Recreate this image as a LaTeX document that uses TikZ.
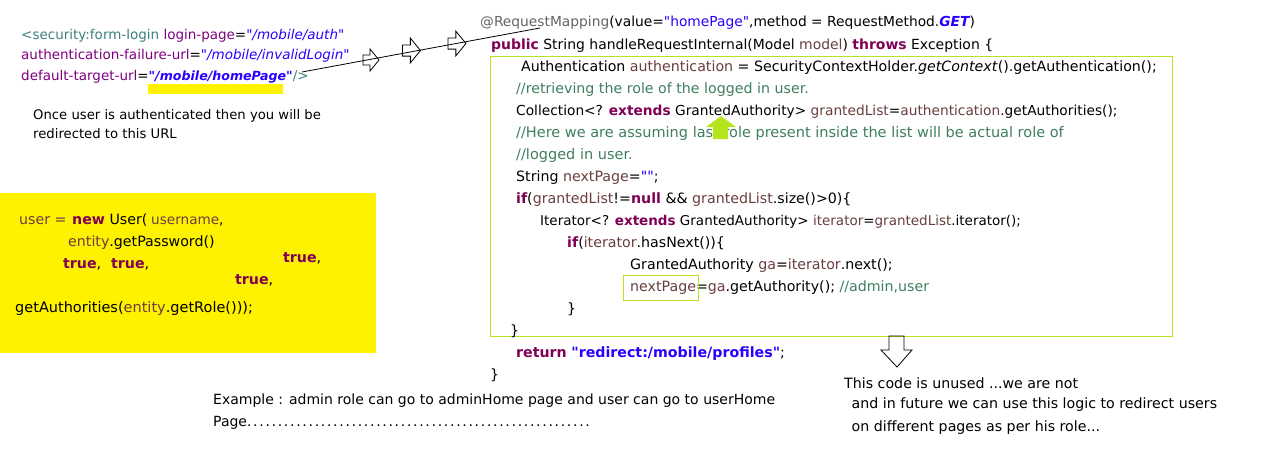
\documentclass[tikz,border=0pt]{standalone}
\usepackage{fontspec}
\newfontfamily\codefont{DejaVu Sans}
\usepackage{xcolor}
\definecolor{kwc}{RGB}{127,0,85}
\definecolor{strc}{RGB}{42,0,255}
\definecolor{varc}{RGB}{106,62,62}
\definecolor{comc}{RGB}{63,127,95}
\definecolor{annc}{RGB}{100,100,100}
\definecolor{xtagc}{RGB}{63,127,127}
\definecolor{xattrc}{RGB}{127,0,127}
\definecolor{limec}{RGB}{181,230,29}
\definecolor{yelc}{RGB}{255,242,0}
\newcommand{\ckw}[1]{\textcolor{kwc}{\bfseries #1}}
\newcommand{\cst}[1]{\textcolor{strc}{#1}}
\newcommand{\cvr}[1]{\textcolor{varc}{#1}}
\newcommand{\ccm}[1]{\textcolor{comc}{#1}}
\newcommand{\fsz}[1]{\fontsize{#1}{16}\selectfont}
\begin{document}
\begin{tikzpicture}[x=1pt,y=-1pt,
  code/.style={anchor=base west, inner sep=0pt, font=\codefont\fsz{14.2}},
  xml/.style={anchor=base west, inner sep=0pt, font=\codefont\fsz{13.5}},
  note/.style={anchor=base west, inner sep=0pt, font=\codefont\fsz{13.2}},
  ybox/.style={anchor=base west, inner sep=0pt, font=\codefont\fsz{14.2}},
  hollowr/.pic={\draw[black, line width=0.8pt] (-8,-5) -- (-1,-5) -- (-1,-11) -- (8,0) -- (-1,11) -- (-1,5) -- (-8,5) -- cycle;}
]
\useasboundingbox (0,0) rectangle (1270,471);
\fill[white] (0,0) rectangle (1270,471);

% XML config
\node[xml] (x1) at (21,39) {\textcolor{xtagc}{<security:form-login} \textcolor{xattrc}{login-page}=\cst{\itshape "/mobile/auth"}};
\node[xml] (x2) at (21,59) {\textcolor{xattrc}{authentication-failure-url}=\cst{\itshape "/mobile/invalidLogin"}};
\node[xml] (x3) at (21,80) {\textcolor{xattrc}{default-target-url}=\cst{\fsz{12.6}\bfseries\itshape "/mobile/homePage"}\textcolor{xtagc}{/>}};
\node[fill=yelc, inner sep=0pt, minimum width=135pt, minimum height=10pt, anchor=north west] (hl) at (148,84) {};
\node[note] (n1) at (33,119) {Once user is authenticated then you will be};
\node[note] (n2) at (33,138) {redirected to this URL};

% yellow box
\node[fill=yelc, inner sep=0pt, minimum width=376pt, minimum height=160pt, anchor=north west] (yb) at (0,193) {};
\node[ybox] (y1a) at (19,224) {\cvr{user =}};
\node[ybox] (y1b) at (72,224) {\ckw{new} User(};
\node[ybox, font=\codefont\fsz{13.6}] (y1c) at (151,224) {\cvr{username},};
\node[ybox] (y2) at (68,246) {\cvr{entity}.getPassword()};
\node[ybox] (y3) at (63,268) {\ckw{true},};
\node[ybox] (y4) at (111,268) {\ckw{true},};
\node[ybox] (y5) at (283,262) {\ckw{true},};
\node[ybox] (y6) at (235,284) {\ckw{true},};
\node[ybox, font=\codefont\fsz{14.5}] (y7) at (15,312) {getAuthorities(\cvr{entity}.getRole()));};

% connector with hollow arrows
\coordinate (xmlend) at (302,72);
\coordinate (rmstart) at (540,28);
\draw[line width=0.8pt] (xmlend) -- (rmstart);
\pic at (371,60) {hollowr};
\pic[scale=1.12] at (411.5,50.5) {hollowr};
\pic[scale=1.12] at (457,43.5) {hollowr};

% code
\node[draw=limec, line width=1pt, inner sep=0pt, minimum width=682pt, minimum height=280pt, anchor=north west] (gbox) at (490,56) {};
\node[code, font=\codefont\fsz{13.8}] (c0) at (480,27) {\textcolor{annc}{@RequestMapping}(value=\cst{"homePage"},method = RequestMethod.\cst{\bfseries\itshape GET})};
\node[code, font=\codefont\fsz{13.95}] (c1) at (491,49) {\ckw{public} String handleRequestInternal(Model \cvr{model}) \ckw{throws} Exception \{};
\node[code] (c2) at (521,71) {Authentication \cvr{authentication} = SecurityContextHolder.\textit{getContext}().getAuthentication();};
\node[code] (c3) at (516,93) {\ccm{//retrieving the role of the logged in user.}};
\node[code, font=\codefont\fsz{13.75}] (c4) at (516,115) {Collection<? \ckw{extends} GrantedAuthority> \cvr{grantedList}=\cvr{authentication}.getAuthorities();};
\node[code, font=\codefont\fsz{14.5}] (c5) at (516,137) {\ccm{//Here we are assuming last role present inside the list will be actual role of}};
\node[code, font=\codefont\fsz{14.5}] (c6) at (516,159) {\ccm{//logged in user.}};
\node[code] (c7) at (516,181) {String \cvr{nextPage}=\cst{""};};
\node[code] (c8) at (516,203) {\ckw{if}(\cvr{grantedList}!=\ckw{null} \&\& \cvr{grantedList}.size()>0)\{};
\node[code, font=\codefont\fsz{13.5}] (c9) at (540,225) {Iterator<? \ckw{extends} GrantedAuthority> \cvr{iterator}=\cvr{grantedList}.iterator();};
\node[code] (c10) at (567,247) {\ckw{if}(\cvr{iterator}.hasNext())\{};
\node[code] (c11) at (630,269) {GrantedAuthority \cvr{ga}=\cvr{iterator}.next();};
\node[code] (c12) at (630,291) {\cvr{nextPage}=\cvr{ga}.getAuthority(); \ccm{//admin,user}};
\node[draw=limec, line width=1pt, inner sep=0pt, minimum width=75pt, minimum height=25pt, anchor=north west] (npbox) at (623,275) {};
\node[code] (c13) at (567,313) {\}};
\node[code] (c14) at (510,335) {\}};
\node[code] (c15) at (516,357) {\ckw{return} \cst{\bfseries "redirect:/mobile/profiles"};};
\node[code] (c16) at (490,379) {\}};

% lime up arrow
\fill[limec] (721,116) -- (736,127) -- (728,127) -- (728,139) -- (713,139) -- (713,127) -- (706,127) -- cycle;
% hollow down arrow
\draw[line width=0.8pt] (889,336) -- (904,336) -- (904,350) -- (912,350) -- (897,367) -- (881,350) -- (889,350) -- cycle;

% bottom notes
\node[code, font=\codefont\fsz{14}] (e1) at (213,404) {Example : admin role can go to adminHome page and user can go to userHome};
\node[code, font=\codefont\fsz{14}] (e2) at (213,426) {Page\foreach \i in {1,...,56}{.\kern1.7pt}};
\node[code] (u1) at (844,388) {This code is unused ...we are not};
\node[code] (u2) at (847,408) {\ and in future we can use this logic to redirect users};
\node[code] (u3) at (847,431) {\ on different pages as per his role...};
\end{tikzpicture}
\end{document}
